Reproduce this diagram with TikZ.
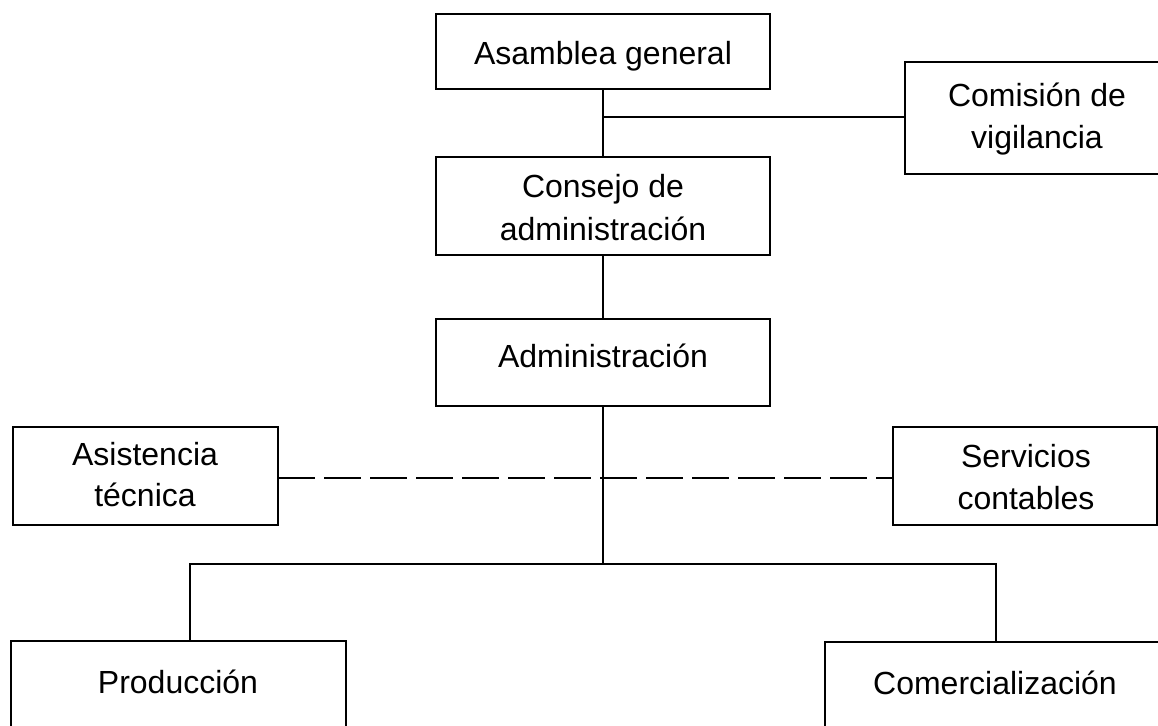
\documentclass[tikz,border=0pt]{standalone}
\usepackage{fontspec}
\setmainfont{Liberation Sans}
\usetikzlibrary{fit}
\begin{document}
\begin{tikzpicture}[x=0.5pt,y=-0.5pt,
  box/.style={draw, line width=1.4pt, inner sep=0pt, outer sep=0pt},
  txt/.style={anchor=base, inner sep=0pt, font=\fontsize{16pt}{19pt}\selectfont},
  conn/.style={line width=1.1pt},
  dashconn/.style={line width=1.1pt, dash pattern=on 18.5pt off 4.5pt}]
\useasboundingbox (0,0) rectangle (1158,726);
% boxes
\node[box, fit={(436,14) (770,89)}] (ag) {};
\node[box, fit={(905,62) (1172,174)}] (cv) {};
\node[box, fit={(436,157) (770,255)}] (cd) {};
\node[box, fit={(436,319) (770,406)}] (ad) {};
\node[box, fit={(13,427) (278,525)}] (at) {};
\node[box, fit={(893,427) (1157,525)}] (sc) {};
\node[box, fit={(11,641) (346,732)}] (pr) {};
\node[box, fit={(825,642) (1172,732)}] (co) {};
% texts
\node[txt] (tag) at (603,65) {Asamblea general};
\node[txt] (tcv1) at (1037,107) {Comisión de};
\node[txt] (tcv2) at (1037,149) {vigilancia};
\node[txt] (tcd1) at (603,198) {Consejo de};
\node[txt] (tcd2) at (603,241) {administración};
\node[txt] (tad) at (603,368) {Administración};
\node[txt] (tat1) at (145,466) {Asistencia};
\node[txt] (tat2) at (145,507) {técnica};
\node[txt] (tsc1) at (1026,468) {Servicios};
\node[txt] (tsc2) at (1026,510) {contables};
\node[txt] (tpr) at (178,694) {Producción};
\node[txt] (tco) at (995,695) {Comercialización};
% connectors
\coordinate (j1) at (603,117);
\coordinate (j2) at (603,564);
\coordinate (pl) at (190,564);
\coordinate (cl) at (996,564);
\coordinate (dl) at (278,478);
\draw[conn] (ag.south) -- (cd.north);
\draw[conn] (j1) -- (j1 -| cv.west);
\draw[conn] (cd.south) -- (ad.north);
\draw[conn] (ad.south) -- (j2);
\draw[conn] (pl |- pr.north) -- (pl) -- (cl) -- (cl |- co.north);
\draw[dashconn] (dl -| at.east) -- (dl -| sc.west);
\end{tikzpicture}
\end{document}
